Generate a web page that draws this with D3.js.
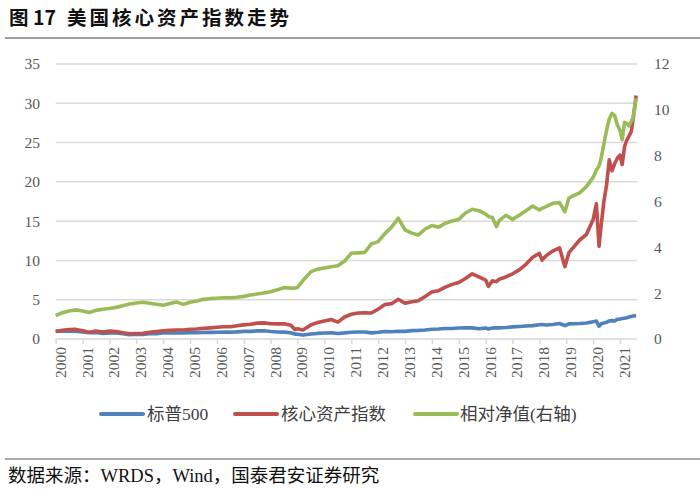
<!DOCTYPE html>
<html><head><meta charset="utf-8">
<script src="https://cdn.jsdelivr.net/npm/d3@7"></script>
<style>
body{margin:0;background:#fff;}
svg{display:block;}
</style></head>
<body><svg id="c" width="700" height="489"></svg>
<script>
const years = [2000,2001,2002,2003,2004,2005,2006,2007,2008,2009,2010,2011,2012,2013,2014,2015,2016,2017,2018,2019,2020,2021];
const leftTicks = [0,5,10,15,20,25,30,35];
const rightTicks = [0,2,4,6,8,10,12];
const seriesNames = ["标普500","核心资产指数","相对净值(右轴)"];
const dates = [
2000.0,2000.25,2000.5,2000.75,
2001.0,2001.25,2001.5,2001.75,
2002.0,2002.25,2002.5,2002.75,
2003.0,2003.25,2003.5,2003.75,
2004.0,2004.25,2004.5,2004.75,
2005.0,2005.25,2005.5,2005.75,
2006.0,2006.25,2006.5,2006.75,
2007.0,2007.25,2007.5,2007.75,
2008.0,2008.25,2008.5,2008.75,2008.9,
2009.0,2009.2,2009.5,2009.75,
2010.0,2010.25,2010.5,2010.75,
2011.0,2011.25,2011.5,2011.75,
2012.0,2012.25,2012.5,2012.75,
2013.0,2013.25,2013.5,2013.75,
2014.0,2014.25,2014.5,2014.75,
2015.0,2015.25,2015.5,2015.75,
2016.0,2016.1,2016.25,2016.4,2016.5,2016.75,
2017.0,2017.25,2017.5,2017.75,
2018.0,2018.1,2018.25,2018.5,2018.75,2018.95,
2019.1,2019.25,2019.5,2019.75,
2020.0,2020.12,2020.22,2020.3,2020.4,2020.5,2020.6,2020.7,2020.8,2020.9,
2021.0,2021.08,2021.17,2021.25,2021.33,2021.42,2021.5,2021.6];
const sp500 = [
1.00,1.03,0.98,0.98,
0.90,0.79,0.84,0.71,
0.78,0.78,0.67,0.56,
0.60,0.58,0.66,0.68,
0.76,0.78,0.77,0.77,
0.81,0.80,0.82,0.84,
0.86,0.88,0.87,0.91,
0.97,0.97,1.03,1.04,
0.96,0.90,0.87,0.79,0.62,
0.61,0.50,0.63,0.71,
0.76,0.80,0.70,0.78,
0.86,0.90,0.90,0.78,
0.86,0.96,0.93,0.98,
0.97,1.07,1.10,1.15,
1.25,1.27,1.33,1.33,
1.40,1.42,1.42,1.31,
1.39,1.28,1.40,1.41,1.42,1.47,
1.54,1.60,1.65,1.70,
1.82,1.84,1.79,1.85,1.97,1.70,
1.92,1.95,1.98,2.03,
2.20,2.28,1.62,1.95,2.05,2.12,2.30,2.34,2.30,2.50,
2.54,2.60,2.65,2.70,2.80,2.87,2.93,3.00];
const coreIndex = [
0.95,1.10,1.20,1.22,
1.05,0.85,1.00,0.88,
1.00,0.95,0.80,0.66,
0.70,0.72,0.85,0.95,
1.05,1.10,1.15,1.15,
1.25,1.28,1.35,1.42,
1.50,1.55,1.55,1.68,
1.80,1.88,2.02,2.05,
1.95,1.92,1.95,1.75,1.20,
1.30,1.15,1.80,2.10,
2.30,2.48,2.15,2.80,
3.15,3.30,3.35,3.30,
3.80,4.40,4.50,5.05,
4.55,4.75,4.88,5.40,
6.00,6.15,6.60,6.95,
7.20,7.70,8.30,7.90,
7.50,6.70,7.40,7.30,7.60,7.90,
8.30,8.80,9.50,10.40,
10.90,10.05,10.60,11.20,11.60,9.20,
11.00,11.60,12.60,13.30,
15.2,17.2,11.8,14.5,17.5,19.6,22.8,21.4,22.3,23.0,
23.4,22.2,24.5,25.3,25.8,26.4,28.3,31.0];
const relNav = [
1.02,1.15,1.22,1.27,
1.22,1.16,1.25,1.30,
1.33,1.38,1.45,1.53,
1.57,1.60,1.56,1.52,
1.47,1.55,1.61,1.51,
1.60,1.66,1.73,1.76,
1.78,1.80,1.80,1.82,
1.86,1.92,1.96,2.01,
2.06,2.15,2.24,2.22,2.22,
2.25,2.55,2.94,3.05,
3.10,3.15,3.20,3.40,
3.74,3.76,3.78,4.15,
4.25,4.60,4.88,5.27,
4.76,4.62,4.54,4.80,
4.95,4.88,5.05,5.15,
5.22,5.50,5.66,5.60,
5.45,5.35,5.30,4.90,5.15,5.40,
5.22,5.40,5.60,5.80,
5.63,5.70,5.78,5.92,5.95,5.55,
6.15,6.25,6.38,6.65,
7.05,7.37,7.55,7.9,8.5,9.1,9.6,9.85,9.75,9.35,
9.1,8.7,9.45,9.4,9.3,9.5,9.7,10.5];

const colors = ["#4F81BD","#C0504D","#9BBB59"];
const serif = "'Liberation Serif', 'Noto Sans CJK SC', serif";
const cjk = "'Noto Sans CJK SC', 'Liberation Serif', sans-serif";
const svg = d3.select("#c");

const x = d3.scaleLinear().domain([2000,2021]).range([55.7,620]);
const xEnd = 2021.63;
const yL = d3.scaleLinear().domain([0,35]).range([339,64]);
const yR = d3.scaleLinear().domain([0,12]).range([339,64]);

// title
const title = svg.append("text").attr("x",9).attr("y",25).style("font-family",cjk).style("font-weight","bold")
  .style("font-size","19.5px").attr("fill","#111");
title.append("tspan").text("图 17");
title.append("tspan").attr("dx",11).style("letter-spacing","3px").text("美国核心资产指数走势");
svg.append("line").attr("x1",5).attr("x2",700).attr("y1",38).attr("y2",38).attr("stroke","#7f7f7f").attr("stroke-width",1.5);

// gridlines
svg.append("g").selectAll("line").data(leftTicks.filter(d=>d>0)).join("line")
  .attr("x1",x(2000)).attr("x2",x(xEnd)).attr("y1",d=>yL(d)).attr("y2",d=>yL(d))
  .attr("stroke","#d9d9d9").attr("stroke-width",1.5);

// left axis
const gl = svg.append("g").attr("transform","translate(40,0)")
  .call(d3.axisLeft(yL).tickValues(leftTicks).tickSize(0).tickPadding(0));
gl.select(".domain").remove();
gl.selectAll("text").style("font-family",serif).style("font-size","15.5px").attr("fill","#595959");

// right axis
const gr = svg.append("g").attr("transform","translate(654,0)")
  .call(d3.axisRight(yR).tickValues(rightTicks).tickSize(0).tickPadding(0));
gr.select(".domain").remove();
gr.selectAll("text").style("font-family",serif).style("font-size","15.5px").attr("fill","#595959");

// x axis
svg.append("line").attr("x1",x(2000)).attr("x2",x(xEnd)).attr("y1",339).attr("y2",339)
  .attr("stroke","#d9d9d9").attr("stroke-width",1.5);
const gx = svg.append("g").attr("transform","translate(0,339)")
  .call(d3.axisBottom(x).tickValues(years).tickSize(5).tickFormat(d3.format("d")));
gx.select(".domain").remove();
gx.selectAll(".tick line").attr("stroke","#d9d9d9").attr("stroke-width",1.5);
gx.selectAll(".tick text").style("font-family",serif).style("font-size","15.5px").attr("fill","#595959")
  .attr("transform","translate(4,0) rotate(-90)").attr("text-anchor","end")
  .attr("x",-8).attr("y",0).attr("dy","0.35em");

// lines
const rows = dates.map((d,i)=>({d, a:sp500[i], b:coreIndex[i], c:relNav[i]}));
const lines = [
  d3.line().x(r=>x(r.d)).y(r=>yL(r.a)),
  d3.line().x(r=>x(r.d)).y(r=>yL(r.b)),
  d3.line().x(r=>x(r.d)).y(r=>yR(r.c))
];
lines.forEach((ln,i)=>{
  svg.append("path").datum(rows).attr("d",ln).attr("fill","none")
    .attr("stroke",colors[i]).attr("stroke-width",3.6).attr("stroke-linejoin","round");
});

// legend
const leg = [{x:101,t:147},{x:235,t:281},{x:415,t:460}];
leg.forEach((l,i)=>{
  svg.append("line").attr("x1",l.x).attr("x2",l.x+42).attr("y1",414).attr("y2",414)
    .attr("stroke",colors[i]).attr("stroke-width",4).attr("stroke-linecap","round");
  svg.append("text").attr("x",l.t).attr("y",420).style("font-family",serif).style("font-size","17.5px")
    .attr("fill","#404040").text(seriesNames[i]);
});

// source
svg.append("line").attr("x1",5).attr("x2",700).attr("y1",459).attr("y2",459).attr("stroke","#555").attr("stroke-width",1);
svg.append("text").attr("x",8).attr("y",482).style("font-family",serif).style("font-size","18.5px")
  .attr("fill","#111").text("数据来源：WRDS，Wind，国泰君安证券研究");
</script></body></html>
